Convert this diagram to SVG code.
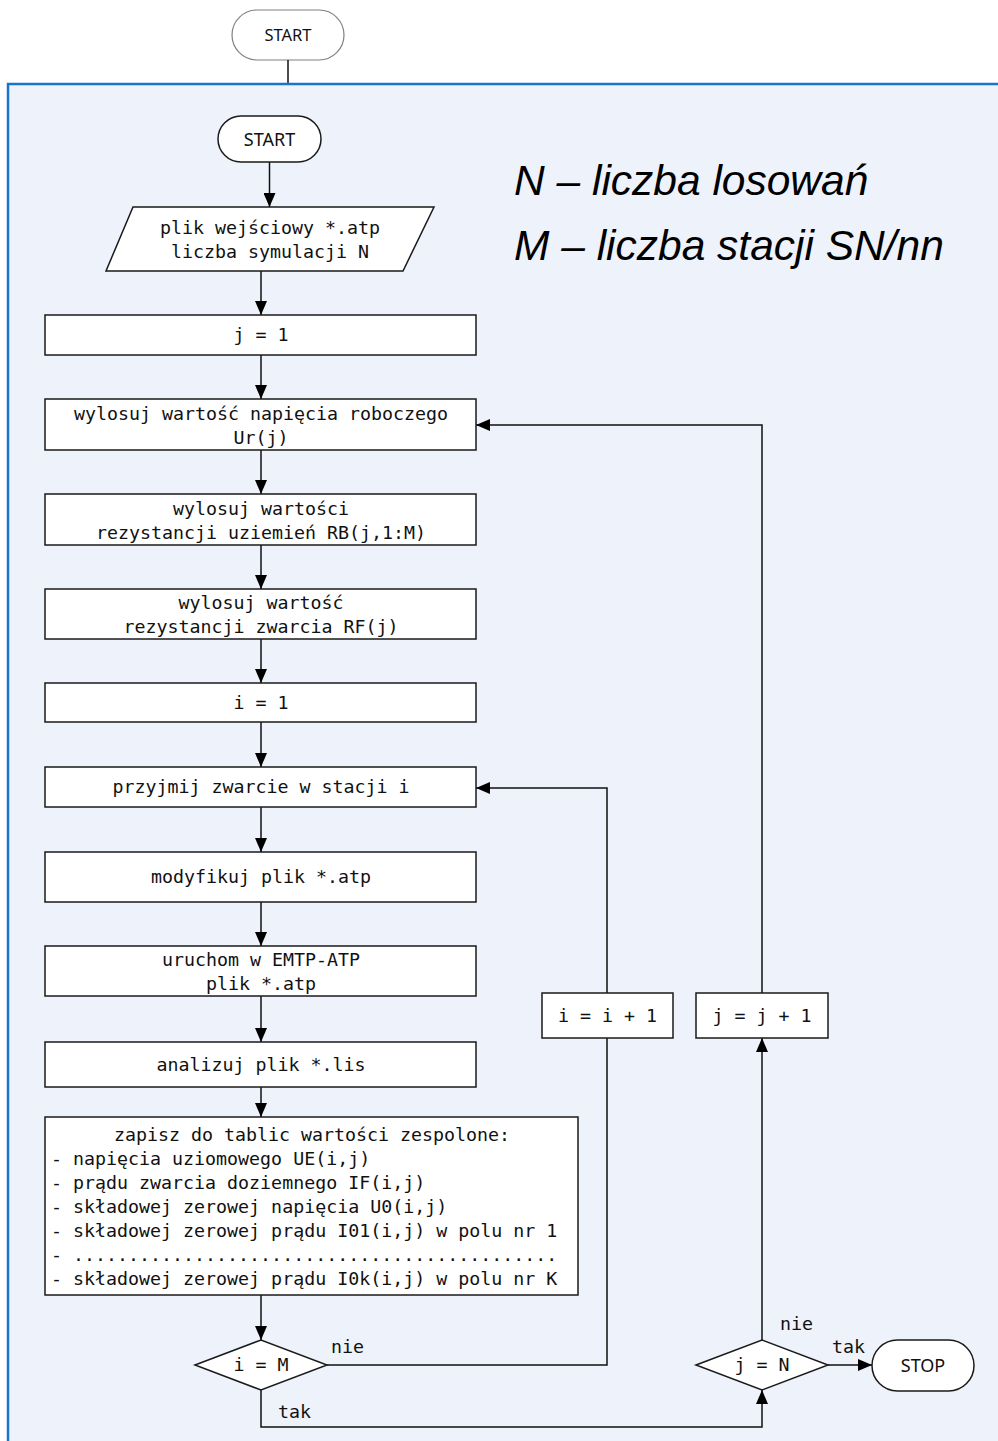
<svg xmlns="http://www.w3.org/2000/svg" width="998" height="1441" viewBox="0 0 998 1441">
  <style>
    .box { fill: #ffffff; stroke: #1a1a1a; stroke-width: 1.5; }
    .term { fill: #ffffff; stroke: #1a1a1a; stroke-width: 1.5; }
    .mono { font-family: "DejaVu Sans Mono", "Liberation Mono", monospace; font-size: 18.3px; fill: #111; }
    .sans { font-family: "Noto Sans", "Open Sans", "Liberation Sans", sans-serif; fill: #111; }
    .legend { font-family: "Liberation Sans", Arial, sans-serif; font-style: italic; font-size: 42.5px; fill: #000; }
    .conn { fill: none; stroke: #111; stroke-width: 1.5; }
  </style>
  <defs>
    <marker id="arrow" viewBox="0 0 14 12" refX="14" refY="6" markerWidth="14" markerHeight="12" markerUnits="userSpaceOnUse" orient="auto">
      <path d="M0,0 L14,6 L0,12 z" fill="#000"/>
    </marker>
  </defs>

  <!-- outer start terminal -->
  <g id="outer-start">
    <rect x="232" y="10" width="112" height="50" rx="25" fill="#ffffff" stroke="#808080" stroke-width="1.2"/>
    <text class="sans" x="288" y="41" font-size="16.5" text-anchor="middle">START</text>
  </g>
  <line x1="288" y1="60" x2="288" y2="84" stroke="#111" stroke-width="1.5"/>

  <!-- container panel -->
  <rect id="panel" x="8" y="84" width="1010" height="1400" fill="#eef2fa" stroke="#1a74cc" stroke-width="2.5"/>

  <g id="legend">
    <text class="legend" x="514" y="195">N – liczba losowań</text>
    <text class="legend" x="514" y="260">M – liczba stacji SN/nn</text>
  </g>

  <g id="connectors">
    <line class="conn" x1="269.5" y1="162" x2="269.5" y2="207" marker-end="url(#arrow)"/>
    <line class="conn" x1="261" y1="271" x2="261" y2="315" marker-end="url(#arrow)"/>
    <line class="conn" x1="261" y1="355" x2="261" y2="399" marker-end="url(#arrow)"/>
    <line class="conn" x1="261" y1="450" x2="261" y2="494" marker-end="url(#arrow)"/>
    <line class="conn" x1="261" y1="545" x2="261" y2="589" marker-end="url(#arrow)"/>
    <line class="conn" x1="261" y1="639" x2="261" y2="683" marker-end="url(#arrow)"/>
    <line class="conn" x1="261" y1="722" x2="261" y2="767" marker-end="url(#arrow)"/>
    <line class="conn" x1="261" y1="807" x2="261" y2="852" marker-end="url(#arrow)"/>
    <line class="conn" x1="261" y1="902" x2="261" y2="946" marker-end="url(#arrow)"/>
    <line class="conn" x1="261" y1="996" x2="261" y2="1042" marker-end="url(#arrow)"/>
    <line class="conn" x1="261" y1="1087" x2="261" y2="1117" marker-end="url(#arrow)"/>
    <line class="conn" x1="261" y1="1295" x2="261" y2="1340" marker-end="url(#arrow)"/>
    <polyline class="conn" points="327,1365 607,1365 607,1038"/>
    <polyline class="conn" points="607,993 607,788 476,788" marker-end="url(#arrow)"/>
    <polyline class="conn" points="261,1390 261,1427 762,1427 762,1390" marker-end="url(#arrow)"/>
    <line class="conn" x1="762" y1="1340" x2="762" y2="1038" marker-end="url(#arrow)"/>
    <polyline class="conn" points="762,993 762,425 476,425" marker-end="url(#arrow)"/>
    <line class="conn" x1="828" y1="1365" x2="872" y2="1365" marker-end="url(#arrow)"/>
    <text class="mono" x="331" y="1353">nie</text>
    <text class="mono" x="278" y="1418">tak</text>
    <text class="mono" x="780" y="1330">nie</text>
    <text class="mono" x="832" y="1353">tak</text>
  </g>

  <g id="start">
    <rect class="term" x="218" y="116" width="103" height="46" rx="23"/>
    <text class="sans" x="269.5" y="146" font-size="18" text-anchor="middle">START</text>
  </g>

  <g id="input">
    <polygon class="box" points="133,207 434,207 403,271 106,271"/>
    <text class="mono" x="270" y="234" text-anchor="middle">plik wejściowy *.atp</text>
    <text class="mono" x="270" y="258" text-anchor="middle">liczba symulacji N</text>
  </g>

  <g id="j-init">
    <rect class="box" x="45" y="315" width="431" height="40"/>
    <text class="mono" x="261" y="341" text-anchor="middle">j = 1</text>
  </g>

  <g id="draw-ur">
    <rect class="box" x="45" y="399" width="431" height="51"/>
    <text class="mono" x="261" y="420" text-anchor="middle">wylosuj wartość napięcia roboczego</text>
    <text class="mono" x="261" y="444" text-anchor="middle">Ur(j)</text>
  </g>

  <g id="draw-rb">
    <rect class="box" x="45" y="494" width="431" height="51"/>
    <text class="mono" x="261" y="515" text-anchor="middle">wylosuj wartości</text>
    <text class="mono" x="261" y="539" text-anchor="middle">rezystancji uziemień RB(j,1:M)</text>
  </g>

  <g id="draw-rf">
    <rect class="box" x="45" y="589" width="431" height="50"/>
    <text class="mono" x="261" y="609" text-anchor="middle">wylosuj wartość</text>
    <text class="mono" x="261" y="633" text-anchor="middle">rezystancji zwarcia RF(j)</text>
  </g>

  <g id="i-init">
    <rect class="box" x="45" y="683" width="431" height="39"/>
    <text class="mono" x="261" y="709" text-anchor="middle">i = 1</text>
  </g>

  <g id="fault">
    <rect class="box" x="45" y="767" width="431" height="40"/>
    <text class="mono" x="261" y="793" text-anchor="middle">przyjmij zwarcie w stacji i</text>
  </g>

  <g id="modify">
    <rect class="box" x="45" y="852" width="431" height="50"/>
    <text class="mono" x="261" y="883" text-anchor="middle">modyfikuj plik *.atp</text>
  </g>

  <g id="run">
    <rect class="box" x="45" y="946" width="431" height="50"/>
    <text class="mono" x="261" y="966" text-anchor="middle">uruchom w EMTP-ATP</text>
    <text class="mono" x="261" y="990" text-anchor="middle">plik *.atp</text>
  </g>

  <g id="analyse">
    <rect class="box" x="45" y="1042" width="431" height="45"/>
    <text class="mono" x="261" y="1071" text-anchor="middle">analizuj plik *.lis</text>
  </g>

  <g id="store">
    <rect class="box" x="45" y="1117" width="533" height="178"/>
    <text class="mono" x="312" y="1141" text-anchor="middle">zapisz do tablic wartości zespolone:</text>
    <text class="mono" x="51" y="1165">- napięcia uziomowego UE(i,j)</text>
    <text class="mono" x="51" y="1189">- prądu zwarcia doziemnego IF(i,j)</text>
    <text class="mono" x="51" y="1213">- składowej zerowej napięcia U0(i,j)</text>
    <text class="mono" x="51" y="1237">- składowej zerowej prądu I01(i,j) w polu nr 1</text>
    <text class="mono" x="51" y="1261">- ............................................</text>
    <text class="mono" x="51" y="1285">- składowej zerowej prądu I0k(i,j) w polu nr K</text>
  </g>

  <g id="check-i">
    <polygon class="box" points="195,1365 261,1340 327,1365 261,1390"/>
    <text class="mono" x="261" y="1371" text-anchor="middle">i = M</text>
  </g>

  <g id="inc-i">
    <rect class="box" x="542" y="993" width="131" height="45"/>
    <text class="mono" x="607.5" y="1022" text-anchor="middle">i = i + 1</text>
  </g>

  <g id="inc-j">
    <rect class="box" x="696" y="993" width="132" height="45"/>
    <text class="mono" x="762" y="1022" text-anchor="middle">j = j + 1</text>
  </g>

  <g id="check-j">
    <polygon class="box" points="696,1365 762,1340 828,1365 762,1390"/>
    <text class="mono" x="762" y="1371" text-anchor="middle">j = N</text>
  </g>

  <g id="stop">
    <rect class="term" x="872" y="1340" width="102" height="51" rx="25.5"/>
    <text class="sans" x="923" y="1372" font-size="18" text-anchor="middle">STOP</text>
  </g>
</svg>
